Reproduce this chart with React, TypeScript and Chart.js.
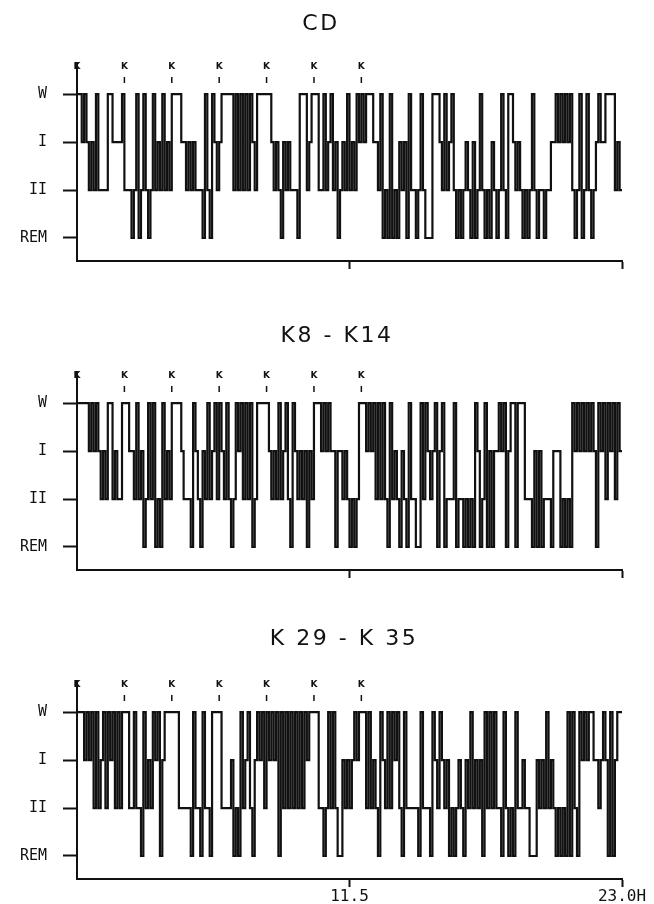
import React, { useEffect, useRef } from "react";
import { Chart, registerables } from "chart.js";

Chart.register(...registerables);

// Sleep stages, index = y value (0 = REM, 1 = II, 2 = I, 3 = W)
const STAGE_LABELS = ["REM", "II", "I", "W"];
const EPOCH_HOURS = 0.1;
const TOTAL_HOURS = 23;
const X_TICKS = [11.5, 23];
const X_TICK_LABELS = ["11.5", "23.0H"];
const K_MARKER_HOURS = [0, 2, 4, 6, 8, 10, 12];

// Hypnogram, one stage value per 0.1 h epoch (230 epochs = 23 h)
const cdStages = [
  3, 3, 2, 3, 2, 1, 2, 1, 3, 1,
  1, 1, 1, 3, 3, 2, 2, 2, 2, 3,
  1, 1, 1, 0, 1, 3, 0, 1, 3, 1,
  0, 1, 3, 1, 2, 1, 3, 1, 2, 1,
  3, 3, 3, 3, 2, 2, 1, 2, 1, 2,
  1, 1, 1, 0, 3, 1, 0, 3, 2, 1,
  2, 3, 3, 3, 3, 3, 1, 3, 1, 3,
  1, 3, 1, 3, 2, 1, 3, 3, 3, 3,
  3, 3, 2, 1, 2, 1, 0, 2, 1, 2,
  1, 1, 1, 0, 3, 3, 3, 1, 2, 3,
  3, 3, 1, 1, 3, 1, 2, 3, 1, 2,
  0, 1, 2, 1, 3, 1, 2, 1, 3, 2,
  3, 2, 3, 3, 3, 2, 2, 1, 3, 0,
  1, 0, 3, 0, 1, 0, 2, 1, 2, 0,
  3, 1, 1, 0, 1, 3, 1, 0, 0, 0,
  3, 3, 3, 2, 1, 3, 1, 2, 3, 1,
  0, 1, 0, 1, 2, 1, 0, 2, 0, 1,
  3, 1, 0, 1, 0, 2, 1, 0, 1, 3,
  1, 0, 3, 3, 2, 1, 2, 1, 0, 1,
  0, 1, 3, 1, 0, 1, 1, 0, 1, 1,
  2, 2, 3, 2, 3, 2, 3, 2, 3, 1,
  0, 1, 3, 0, 1, 3, 1, 0, 1, 2,
  3, 2, 2, 3, 3, 3, 3, 1, 2, 1,
];

const k8k14Stages = [
  3, 3, 3, 3, 3, 2, 3, 2, 3, 2,
  1, 2, 1, 3, 3, 1, 2, 1, 1, 3,
  3, 3, 2, 2, 1, 3, 1, 2, 0, 1,
  3, 1, 3, 0, 1, 0, 3, 1, 2, 1,
  3, 3, 3, 3, 2, 1, 1, 1, 0, 3,
  2, 1, 0, 2, 1, 3, 1, 2, 3, 1,
  3, 2, 1, 3, 1, 0, 1, 3, 2, 3,
  1, 3, 1, 3, 0, 1, 3, 3, 3, 3,
  3, 2, 1, 2, 1, 3, 1, 2, 3, 1,
  0, 3, 2, 1, 2, 1, 2, 0, 2, 1,
  3, 3, 3, 2, 3, 2, 3, 2, 2, 0,
  2, 2, 1, 2, 1, 0, 1, 0, 1, 3,
  3, 3, 2, 3, 2, 3, 1, 3, 1, 3,
  1, 0, 3, 1, 2, 1, 0, 2, 1, 0,
  3, 1, 1, 0, 0, 3, 1, 3, 2, 1,
  2, 3, 0, 2, 3, 0, 1, 1, 1, 3,
  0, 1, 1, 0, 1, 0, 1, 0, 3, 2,
  0, 1, 3, 0, 2, 0, 2, 2, 3, 2,
  3, 0, 2, 3, 3, 0, 3, 3, 3, 1,
  1, 1, 0, 2, 0, 2, 0, 1, 1, 1,
  0, 2, 2, 2, 0, 1, 0, 1, 0, 3,
  2, 3, 2, 3, 2, 3, 2, 3, 2, 0,
  3, 2, 3, 1, 3, 2, 3, 1, 3, 2,
];

const k29k35Stages = [
  3, 3, 3, 2, 3, 2, 3, 1, 3, 1,
  2, 3, 1, 3, 2, 3, 1, 3, 1, 3,
  3, 3, 1, 1, 3, 1, 1, 0, 3, 1,
  2, 1, 3, 2, 3, 0, 2, 3, 3, 3,
  3, 3, 3, 1, 1, 1, 1, 1, 0, 3,
  1, 1, 0, 3, 1, 1, 0, 3, 3, 3,
  3, 1, 1, 1, 1, 2, 0, 1, 0, 3,
  1, 2, 3, 1, 0, 2, 3, 2, 3, 1,
  3, 2, 3, 2, 3, 0, 3, 1, 3, 1,
  3, 1, 3, 1, 3, 1, 3, 2, 3, 3,
  3, 3, 1, 1, 0, 1, 3, 1, 3, 1,
  0, 0, 2, 1, 2, 1, 2, 3, 2, 3,
  3, 3, 1, 3, 1, 2, 1, 0, 3, 2,
  1, 3, 1, 3, 2, 3, 1, 0, 3, 1,
  1, 1, 1, 1, 0, 3, 1, 1, 1, 0,
  3, 2, 1, 3, 2, 1, 2, 0, 1, 0,
  1, 2, 1, 0, 2, 1, 3, 1, 2, 1,
  2, 0, 3, 1, 3, 1, 3, 1, 1, 0,
  3, 1, 0, 1, 0, 3, 1, 1, 2, 1,
  1, 0, 0, 0, 2, 1, 2, 1, 3, 1,
  2, 1, 0, 1, 0, 1, 0, 3, 0, 3,
  1, 0, 3, 2, 3, 2, 3, 3, 2, 2,
  1, 2, 3, 2, 0, 3, 0, 2, 3, 3,
];

const PANELS = [
  { title: "CD", stages: cdStages, top: 0, height: 309, titleX: 321, titleY: 24, xLabels: false },
  { title: "K8 - K14", stages: k8k14Stages, top: 309, height: 309, titleX: 337, titleY: 27, xLabels: false },
  { title: "K 29 - K 35", stages: k29k35Stages, top: 618, height: 286, titleX: 344, titleY: 21, xLabels: true },
];

const INK = "#111111";
const AREA_TOP = 63;
const AREA_BOTTOM = 261;
const AREA_LEFT = 77;
const AREA_RIGHT = 622;
const X_AXIS_BOX = 22;

const decorPlugin = {
  id: "panelDecor",
  afterDraw(chart: any, _args: any, opts: any) {
    const ctx = chart.ctx;
    const xs = chart.scales.x;
    ctx.save();
    // title
    ctx.fillStyle = INK;
    ctx.font = '22px "DejaVu Sans"';
    ctx.textAlign = "center";
    ctx.textBaseline = "middle";
    try { (ctx as any).letterSpacing = "2.5px"; } catch (e) {}
    ctx.fillText(opts.title, opts.titleX, opts.titleY);
    try { (ctx as any).letterSpacing = "0px"; } catch (e) {}
    // K markers
    ctx.font = 'bold 9px "DejaVu Sans"';
    ctx.strokeStyle = INK;
    ctx.lineWidth = 1.5;
    K_MARKER_HOURS.forEach((h) => {
      const x = xs.getPixelForValue(h);
      ctx.fillText("K", x, AREA_TOP + 4);
      if (h > 0) {
        ctx.beginPath();
        ctx.moveTo(x, AREA_TOP + 14);
        ctx.lineTo(x, AREA_TOP + 20);
        ctx.stroke();
      }
    });
    ctx.restore();
  },
};

function Panel({ panel }: { panel: (typeof PANELS)[number] }) {
  const ref = useRef<HTMLCanvasElement | null>(null);
  useEffect(() => {
    if (!ref.current) return;
    const pts = panel.stages.map((s, i) => ({ x: i * EPOCH_HOURS, y: s }));
    pts.push({ x: TOTAL_HOURS, y: panel.stages[panel.stages.length - 1] });
    const chart = new Chart(ref.current, {
      type: "line",
      data: {
        datasets: [
          {
            data: pts,
            stepped: true,
            borderColor: INK,
            borderWidth: 2.2,
            pointRadius: 0,
            fill: false,
            tension: 0,
            borderCapStyle: "butt",
            borderJoinStyle: "miter",
          },
        ],
      },
      options: {
        responsive: false,
        animation: false,
        devicePixelRatio: 1,
        layout: {
          padding: {
            top: AREA_TOP,
            left: 0,
            right: 654 - AREA_RIGHT,
            bottom: panel.height - AREA_BOTTOM - X_AXIS_BOX,
          },
        },
        scales: {
          x: {
            type: "linear",
            min: 0,
            max: TOTAL_HOURS,
            afterFit: (s: any) => { s.height = X_AXIS_BOX; },
            afterBuildTicks: (s: any) => { s.ticks = X_TICKS.map((v) => ({ value: v })); },
            grid: { drawOnChartArea: false, drawTicks: true, tickLength: 8, tickWidth: 2, color: INK },
            border: { display: true, width: 2, color: INK },
            ticks: {
              display: panel.xLabels,
              autoSkip: false,
              maxRotation: 0,
              padding: 0,
              color: INK,
              font: { family: '"DejaVu Sans Mono"', size: 16 },
              callback: (v: any) => {
                const i = X_TICKS.indexOf(Number(v));
                return i >= 0 ? X_TICK_LABELS[i] : "";
              },
            },
          },
          y: {
            type: "linear",
            min: -0.48,
            max: 3.65,
            afterFit: (s: any) => { s.width = AREA_LEFT; },
            afterBuildTicks: (s: any) => { s.ticks = [0, 1, 2, 3].map((v) => ({ value: v })); },
            grid: { drawOnChartArea: false, drawTicks: true, tickLength: 14, tickWidth: 2, color: INK },
            border: { display: true, width: 2, color: INK },
            ticks: {
              padding: 16,
              color: INK,
              font: { family: '"DejaVu Sans Mono"', size: 15 },
              callback: (v: any) => STAGE_LABELS[Number(v)] ?? "",
            },
          },
        },
        plugins: {
          legend: { display: false },
          tooltip: { enabled: false },
          title: { display: false },
          panelDecor: { title: panel.title, titleX: panel.titleX, titleY: panel.titleY },
        } as any,
      },
      plugins: [decorPlugin],
    } as any);
    return () => chart.destroy();
  }, [panel]);
  return (
    <canvas
      ref={ref}
      width={654}
      height={panel.height}
      style={{ position: "absolute", left: 0, top: panel.top, width: 654, height: panel.height }}
    />
  );
}

export default function App() {
  return (
    <div style={{ position: "absolute", left: 0, top: 0, width: 654, height: 904, background: "#fff", overflow: "hidden" }}>
      {PANELS.map((p) => (
        <Panel key={p.title} panel={p} />
      ))}
    </div>
  );
}
